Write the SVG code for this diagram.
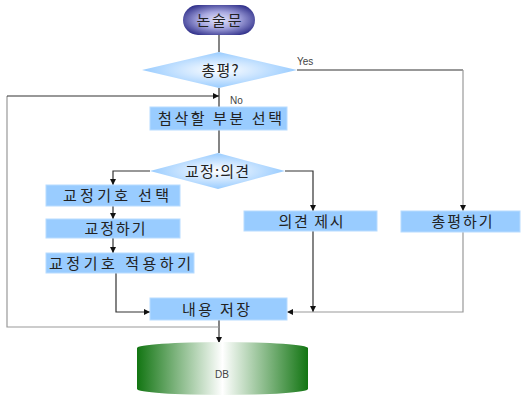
<svg xmlns="http://www.w3.org/2000/svg" width="521" height="396" viewBox="0 0 521 396">
<defs>
<radialGradient id="gTerm" cx="50%" cy="50%" r="60%">
<stop offset="0" stop-color="#e4e4fa"/>
<stop offset="0.45" stop-color="#a8a8e0"/>
<stop offset="1" stop-color="#2a2a86"/>
</radialGradient>
<radialGradient id="gDia" cx="50%" cy="50%" r="50%">
<stop offset="0" stop-color="#ffffff"/>
<stop offset="0.45" stop-color="#d2e8ff"/>
<stop offset="1" stop-color="#99ccff"/>
</radialGradient>
<linearGradient id="gDB" x1="0" y1="0" x2="1" y2="0">
<stop offset="0" stop-color="#127512"/>
<stop offset="0.5" stop-color="#ffffff"/>
<stop offset="1" stop-color="#127512"/>
</linearGradient>
<marker id="arr" viewBox="0 0 10 10" refX="10" refY="5" markerWidth="6" markerHeight="6" orient="auto" markerUnits="userSpaceOnUse">
<path d="M0,0 L10,5 L0,10 z" fill="#111"/>
</marker>
<style>
.box{fill:#99ccff;stroke:#b8dcff;stroke-width:1}
.t{font-family:"Noto Sans CJK KR","Liberation Sans",sans-serif;font-size:15px;fill:#222;text-anchor:middle}
.s{font-family:"Liberation Sans","Noto Sans",sans-serif;font-size:10px;fill:#444}
.c{fill:none;stroke:#333;stroke-width:1.2}
.g{fill:none;stroke:#999;stroke-width:1.2}
</style>
</defs>
<g id="connectors">
<path class="c" d="M219,35 V52"/>
<path class="c" d="M219,88 V107"/>
<path class="c" d="M297,70 H463"/>
<path class="g" d="M463,70 V211" marker-end="url(#arr)"/>
<path class="c" d="M219,130 V153"/>
<path class="c" d="M150,171 H113 V185" marker-end="url(#arr)"/>
<path class="c" d="M285,171 H313 V211" marker-end="url(#arr)"/>
<path class="c" d="M113,206 V219" marker-end="url(#arr)"/>
<path class="c" d="M113,238 V253" marker-end="url(#arr)"/>
<path class="c" d="M116,273 V312 H150" marker-end="url(#arr)"/>
<path class="c" d="M313,231 V312" marker-end="url(#arr)"/>
<path class="g" d="M463,232 V312 H287" marker-end="url(#arr)"/>
<path class="c" d="M219,320 V343" marker-end="url(#arr)"/>
<path class="g" d="M219,327 H7 V96"/>
<path class="c" d="M7,96 H219" marker-end="url(#arr)"/>
<text class="s" x="297" y="65">Yes</text>
<text class="s" x="230" y="104">No</text>
</g>
<g id="start">
<rect x="183" y="5" width="72" height="30" rx="15" fill="url(#gTerm)"/>
<text class="t" x="219" y="26" textLength="45" lengthAdjust="spacing">논술문</text>
</g>
<g id="review-decision">
<polygon points="219,52 297,70 219,88 142,70" fill="url(#gDia)"/>
<text class="t" x="220" y="76" textLength="37" lengthAdjust="spacing">총평?</text>
</g>
<g id="select-part">
<rect class="box" x="150" y="107" width="137" height="23"/>
<text class="t" x="220" y="124" textLength="124" lengthAdjust="spacing">첨삭할 부분 선택</text>
</g>
<g id="correct-decision">
<polygon points="218,153 285,171 218,189 150,171" fill="url(#gDia)"/>
<text class="t" x="217" y="177" textLength="64" lengthAdjust="spacing">교정:의견</text>
</g>
<g id="select-mark">
<rect class="box" x="46" y="185" width="134" height="21"/>
<text class="t" x="116" y="201" textLength="106" lengthAdjust="spacing">교정기호 선택</text>
</g>
<g id="correct">
<rect class="box" x="46" y="219" width="134" height="19"/>
<text class="t" x="115" y="234" textLength="61" lengthAdjust="spacing">교정하기</text>
</g>
<g id="apply-mark">
<rect class="box" x="46" y="253" width="148" height="20"/>
<text class="t" x="120" y="269" textLength="142" lengthAdjust="spacing">교정기호 적용하기</text>
</g>
<g id="opinion">
<rect class="box" x="244" y="211" width="133" height="20"/>
<text class="t" x="311" y="227" textLength="65" lengthAdjust="spacing">의견 제시</text>
</g>
<g id="review">
<rect class="box" x="401" y="211" width="119" height="21"/>
<text class="t" x="462" y="227" textLength="61" lengthAdjust="spacing">총평하기</text>
</g>
<g id="save">
<rect class="box" x="150" y="298" width="137" height="22"/>
<text class="t" x="216" y="315" textLength="68" lengthAdjust="spacing">내용 저장</text>
</g>
<g id="db">
<path d="M137,348 A85.5,6 0 0 1 308,348 V389 A85.5,6 0 0 1 137,389 Z" fill="url(#gDB)"/>
<text class="s" x="222" y="378" text-anchor="middle">DB</text>
</g>
</svg>
